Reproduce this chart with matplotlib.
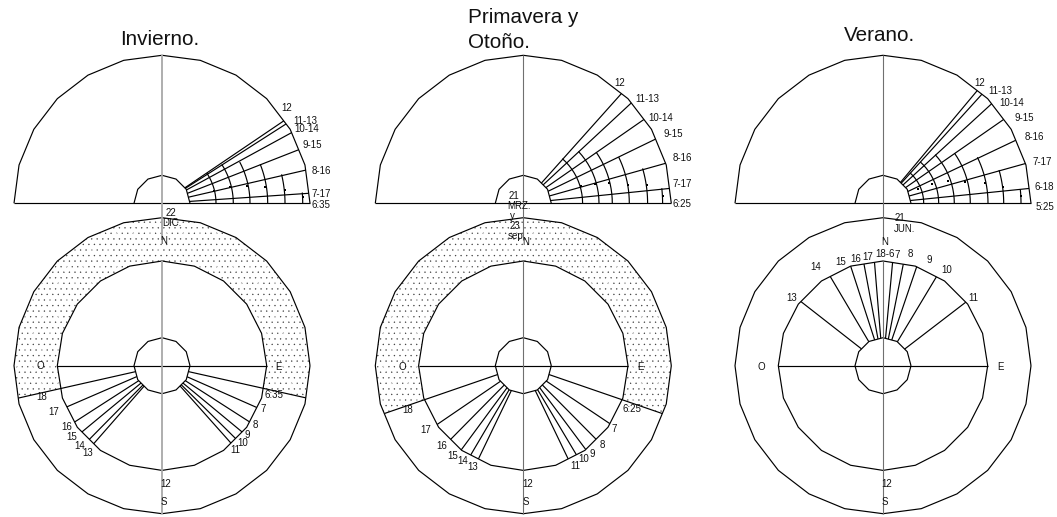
import numpy as np
import matplotlib
matplotlib.use("Agg")
import matplotlib.pyplot as plt
from matplotlib.patches import Polygon

plt.rcParams['font.family'] = ['Liberation Sans', 'DejaVu Sans']
plt.rcParams['hatch.linewidth'] = 0.2

# sun altitude of each hour (degrees above the horizon), top fans
inv_alt = [0, 3.9, 13, 21.4, 28.6, 32.6, 34.1]
pri_alt = [0, 5.8, 15.7, 25.9, 34.8, 42.9, 48.2]
ver_alt = [0, 5.8, 15.6, 25.4, 34.8, 42.5, 47.8, 50.1]

# distance arcs in the fans: radius and the altitude where each one stops
inv_arc_r = [54, 71.3, 88, 105.7, 123, 140.7]
inv_arc_end = [33.9, 33, 28, 21.7, 13.6, 4.4]
pri_arc_r = [59.3, 75.7, 89, 106, 124.3, 139.3]
pri_arc_end = [48.8, 43.2, 35, 25.9, 16.3, 6.2]
ver_arc_r = [40.7, 55.7, 71.3, 87.3, 105, 120.7, 138]
ver_arc_end = [48.4, 48, 43, 35, 26, 16, 5.8]

# small dots: radius, altitude
inv_dot_r = [53.5, 70, 87, 104.5, 123.5, 141]
inv_dot_alt = [13.5, 13.3, 11.3, 8.8, 6.2, 2.5]
pri_dot_r = [60.5, 74.5, 88.5, 106, 125, 140]
pri_dot_alt = [16.5, 15.2, 13.2, 9.9, 8.2, 3.1]
ver_dot_r = [37.5, 52.5, 68.5, 85, 104, 121.5, 138.5]
ver_dot_alt = [23, 22, 18.7, 14.8, 11.5, 7.9, 3]

# sun azimuth rays in the lower circles, degrees from due east (negative = south side)
inv_az = [-12.6, -23.8, -32.7, -39.6, -44.7, -48.3, -131.2, -134.6, -140.4, -147.2, -156.6, -167.3]
pri_az = [-19, -33.8, -45.3, -53.3, -59.2, -64.3, -115.7, -120.5, -126.4, -134.6, -145.7, -161]
ver_az = [37.5, 59, 71.2, 78.7, 84.7, 142, 120.6, 108, 100.6, 94.7]

# limit of the shaded night band, degrees below the horizontal
inv_band = 12.6
pri_band = 19

# text
inv_labels = ["12", "11-13", "10-14", "9-15", "8-16", "7-17", "6:35", "22", "DIC.", "N", "O", "E",
              "6:35", "7", "8", "9", "10", "11", "18", "17", "16", "15", "14", "13", "12", "S"]
pri_labels = ["12", "11-13", "10-14", "9-15", "8-16", "7-17", "6:25", "21", "MRZ.", "y", "23", "sep", "N", "O", "E",
              "6:25", "7", "8", "9", "10", "11", "18", "17", "16", "15", "14", "13", "12", "S"]
ver_labels = ["12", "11-13", "10-14", "9-15", "8-16", "7-17", "6-18", "5:25", "21", "JUN.", "N", "18-6", "7", "8",
              "9", "10", "11", "17", "16", "15", "14", "13", "O", "E", "12", "S"]

# layout, in picture pixels
inv_label_xy = [(287, 108), (305, 121), (307, 129), (312, 145), (321, 171), (321, 194), (321, 205), (171, 213),
                (172, 223), (164, 241), (40, 366), (279, 367), (274, 395), (263, 409), (255, 425), (247, 435),
                (243, 443), (235, 450), (42, 397), (54, 412), (67, 427), (72, 437), (80, 446), (88, 453),
                (166, 484), (164, 502)]
pri_label_xy = [(620, 83), (647, 99), (661, 118), (673, 134), (682, 158), (682, 184), (682, 204), (514, 196),
                (519, 206), (512, 216), (515, 226), (516, 236), (526, 242), (402, 367), (641, 367), (632, 409),
                (614, 429), (602, 445), (592, 454), (584, 459), (575, 466), (408, 410), (426, 430), (442, 446),
                (453, 456), (463, 461), (473, 467), (528, 484), (526, 502)]
ver_label_xy = [(980, 83), (1000, 91), (1012, 103), (1024, 118), (1034, 137), (1042, 162), (1044, 187), (1045, 207),
                (900, 218), (905, 229), (885, 242), (885, 254), (897, 255), (910, 254), (929, 260), (947, 270),
                (973, 298), (868, 257), (856, 259), (841, 262), (816, 267), (792, 298), (761, 367), (1000, 367),
                (887, 484), (885, 502)]

top_y = 203.3
low_y = 365.7
r_out = 148
r_mid = 104.7
r_in = 28
lc = "black"
lw = 0.85


def pol_r(t, R, n):
    # radius of a regular n-gon (vertex at the top) in direction t degrees
    step = 360 / n
    d = (t - 90) % step
    return R * np.cos(np.radians(step / 2)) / np.cos(np.radians(d - step / 2))


def pt(cx, cy, r, t):
    return cx + r * np.cos(np.radians(t)), cy - r * np.sin(np.radians(t))


def poly_pts(cx, cy, R, n, t0, t1):
    step = 360 / n
    k0 = int(np.floor((t0 - 90) / step)) + 1
    k1 = int(np.ceil((t1 - 90) / step)) - 1
    ts = [t0] + [90 + k * step for k in range(k0, k1 + 1)] + [t1]
    return [pt(cx, cy, pol_r(t, R, n), t) for t in ts]


def draw_line(ax, pts, color=lc, width=lw):
    xs = [p[0] for p in pts]
    ys = [p[1] for p in pts]
    ax.plot(xs, ys, color=color, lw=width, solid_capstyle="butt", solid_joinstyle="miter")


def draw_top(ax, cx, alts, arc_r, arc_end, dot_r, dot_alt):
    draw_line(ax, poly_pts(cx, top_y, r_out, 24, 0, 180))
    draw_line(ax, poly_pts(cx, top_y, r_in, 12, 0, 180))
    draw_line(ax, [pt(cx, top_y, r_out, 180), pt(cx, top_y, r_out, 0)])
    for a in alts[1:]:
        draw_line(ax, [pt(cx, top_y, pol_r(a, r_in, 12), a), pt(cx, top_y, pol_r(a, r_out, 24), a)])
    for r, e in zip(arc_r, arc_end):
        ts = np.linspace(0, e, 12)
        draw_line(ax, [pt(cx, top_y, r, t) for t in ts])
    dots = [pt(cx, top_y, r, a) for r, a in zip(dot_r, dot_alt)]
    ax.plot([d[0] for d in dots], [d[1] for d in dots], ls="none", marker="s", ms=1.6, color="black", mew=0)


def draw_low(ax, cx, az, band=None):
    if band is not None:
        outer = poly_pts(cx, low_y, r_out, 24, -band, 180 + band)
        inner = poly_pts(cx, low_y, r_mid, 20, -band, 180 + band)
        # white dots of another pitch over the dark ones, so the stipple loses its even rows
        for hatch, color in [("...", "#3a3a3a"), ("....", "white")]:
            ax.add_patch(Polygon(outer + inner[::-1], closed=True, facecolor="none", edgecolor=color,
                                 hatch=hatch, linewidth=0))
    draw_line(ax, poly_pts(cx, low_y, r_out, 24, 0, 360))
    draw_line(ax, poly_pts(cx, low_y, r_mid, 20, 0, 360))
    draw_line(ax, poly_pts(cx, low_y, r_in, 12, 0, 360))
    draw_line(ax, [pt(cx, low_y, r_mid, 180), pt(cx, low_y, r_mid, 0)])
    for i, a in enumerate(az):
        # the sunrise and sunset rays run on to the outer ring
        if band is not None and (i == 0 or i == len(az) - 1):
            end = pol_r(a, r_out, 24)
        else:
            end = pol_r(a, r_mid, 20)
        draw_line(ax, [pt(cx, low_y, pol_r(a, r_in, 12), a), pt(cx, low_y, end, a)])


def draw_axis(ax, cx, color, width):
    draw_line(ax, [(cx, top_y - r_out), (cx, 240)], color, width)
    draw_line(ax, [(cx, low_y - r_mid), (cx, low_y + r_out)], color, width)


def draw_labels(ax, labels, xy):
    for s, (x, y) in zip(labels, xy):
        ax.text(x, y, s, fontsize=7, ha="center", va="center", color="#111111", zorder=5)


fig = plt.figure(figsize=(10.57, 5.17), dpi=100)
ax = fig.add_axes([0, 0, 1, 1])
ax.set_xlim(0, 1057)
ax.set_ylim(517, 0)
ax.axis("off")

draw_low(ax, 162, inv_az, inv_band)
draw_top(ax, 162, inv_alt, inv_arc_r, inv_arc_end, inv_dot_r, inv_dot_alt)
draw_axis(ax, 162, "#a8a8a8", 1.3)
draw_labels(ax, inv_labels, inv_label_xy)

draw_low(ax, 523.3, pri_az, pri_band)
draw_top(ax, 523.3, pri_alt, pri_arc_r, pri_arc_end, pri_dot_r, pri_dot_alt)
draw_axis(ax, 523.3, "#707070", 0.8)
draw_labels(ax, pri_labels, pri_label_xy)

draw_low(ax, 883, ver_az)
draw_top(ax, 883, ver_alt, ver_arc_r, ver_arc_end, ver_dot_r, ver_dot_alt)
draw_axis(ax, 883, "#707070", 0.8)
draw_labels(ax, ver_labels, ver_label_xy)

ax.text(120, 45, "Invierno.", fontsize=14.9, ha="left", va="baseline", color="#111111")
ax.text(468, 23, "Primavera y", fontsize=14.9, ha="left", va="baseline", color="#111111")
ax.text(468, 48, "Otoño.", fontsize=14.9, ha="left", va="baseline", color="#111111")
ax.text(844, 41, "Verano.", fontsize=14.9, ha="left", va="baseline", color="#111111")

fig.savefig("out.png", dpi=100)
